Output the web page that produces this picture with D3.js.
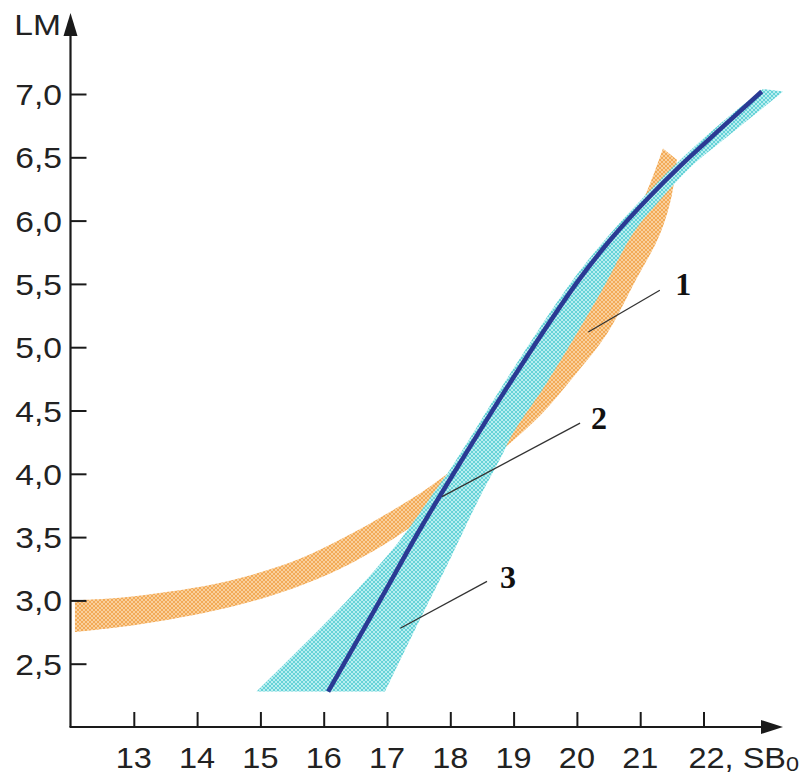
<!DOCTYPE html>
<html>
<head>
<meta charset="utf-8">
<script src="https://cdn.jsdelivr.net/npm/d3@7"></script>
<style>
  body { margin: 0; background: #fff; }
  svg { display: block; }
</style>
</head>
<body>
<svg id="svg" width="809" height="775"></svg>
<script>
// axis ticks
var xTicks = [13, 14, 15, 16, 17, 18, 19, 20, 21, 22];
var yTicks = [2.5, 3.0, 3.5, 4.0, 4.5, 5.0, 5.5, 6.0, 6.5, 7.0];

// band 1 (orange), upper and lower edges as [SB0, LM]
var band1Upper = [[12.07,3.00],[12.78,3.02],[13.57,3.07],[14.28,3.13],[14.99,3.22],[15.63,3.33],
                  [16.30,3.49],[17.05,3.70],[17.68,3.90],[18.31,4.15],[19.10,4.58],[19.89,5.14],
                  [20.68,5.81],[21.08,6.20],[21.36,6.57]];
var band1Lower = [[12.07,2.75],[12.78,2.79],[13.57,2.85],[14.28,2.92],[14.99,3.01],[15.70,3.13],
                  [16.42,3.29],[17.32,3.56],[18.07,3.86],[18.78,4.17],[19.42,4.46],[19.97,4.78],
                  [20.48,5.11],[20.92,5.52],[21.31,5.89],[21.50,6.20],[21.58,6.48]];

// band 3 (cyan)
var band3Left = [[14.94,2.28],[16.37,3.00],[17.21,3.48],[17.71,3.83],[18.03,4.06],[19.02,4.85],
                 [19.92,5.52],[20.48,5.87],[21.08,6.20],[21.55,6.44],[22.18,6.73],[22.94,7.04]];
var band3Right = [[16.97,2.28],[17.52,2.85],[17.99,3.32],[18.44,3.79],[18.78,4.11],[18.99,4.32],
                  [19.50,4.70],[20.00,5.11],[20.44,5.49],[20.89,5.90],[21.31,6.16],[21.79,6.42],
                  [22.37,6.66],[23.26,7.02]];

// curve 2 (dark blue line)
var line2 = [[16.07,2.28],[16.89,3.00],[17.52,3.56],[18.11,4.05],[19.10,4.84],[20.00,5.51],
             [20.55,5.86],[21.15,6.19],[21.63,6.43],[22.26,6.72],[22.92,7.02]];

// callouts: label, text position, leader start, leader end
var calloutNames = ["1", "2", "3"];
var calloutText = [[21.68,5.41],[20.35,4.35],[18.91,3.10]];
var calloutFrom = [[21.31,5.45],[20.05,4.40],[18.58,3.15]];
var calloutTo = [[20.18,5.12],[17.87,3.82],[17.21,2.78]];

var svg = d3.select("#svg");

var xScale = d3.scaleLinear().domain([12, 22]).range([70.5, 703.5]);
var yScale = d3.scaleLinear().domain([2, 7]).range([727, 94]);

var defs = svg.append("defs");

function makeHatch(id, base, ink) {
    var p = defs.append("pattern")
        .attr("id", id)
        .attr("width", 4).attr("height", 4)
        .attr("patternUnits", "userSpaceOnUse");
    p.append("rect").attr("width", 4).attr("height", 4).attr("fill", base);
    p.append("path")
        .attr("d", "M0,0L4,4M4,0L0,4")
        .attr("stroke", ink)
        .attr("stroke-width", 0.9);
}
makeHatch("hatchOrange", "#FAD09C", "#F2A64F");
makeHatch("hatchCyan", "#B8EEF0", "#5CCFD5");

var edge = d3.line()
    .x(function(d){ return xScale(d[0]); })
    .y(function(d){ return yScale(d[1]); })
    .curve(d3.curveCatmullRom.alpha(0.5));

function bandPath(a, b) {
    var back = edge(b.slice().reverse());
    return edge(a) + "L" + back.slice(1) + "Z";
}

//bands
svg.append("path")
    .attr("d", bandPath(band1Upper, band1Lower))
    .attr("fill", "url(#hatchOrange)");

svg.append("path")
    .attr("d", bandPath(band3Left, band3Right))
    .attr("fill", "url(#hatchCyan)");

//line 2
svg.append("path")
    .attr("d", edge(line2))
    .attr("fill", "none")
    .attr("stroke", "#2A3A94")
    .attr("stroke-width", 4.5);

//callouts
var callGrp = svg.append("g");
calloutNames.forEach(function(name, i) {
    callGrp.append("line")
        .attr("x1", xScale(calloutFrom[i][0])).attr("y1", yScale(calloutFrom[i][1]))
        .attr("x2", xScale(calloutTo[i][0])).attr("y2", yScale(calloutTo[i][1]))
        .attr("stroke", "#333")
        .attr("stroke-width", 1.3);
    callGrp.append("text")
        .attr("x", xScale(calloutText[i][0]))
        .attr("y", yScale(calloutText[i][1]))
        .attr("text-anchor", "middle")
        .attr("font-family", "'Liberation Serif', 'Times New Roman', serif")
        .attr("font-weight", "bold")
        .attr("font-size", 32)
        .attr("fill", "#111")
        .text(name);
});

//axes
var axisColor = "#1a1a1a";
var x0 = xScale(12), y0 = yScale(2);

var yAxis = svg.append("g")
    .attr("transform", "translate(" + x0 + ",0)")
    .call(d3.axisRight(yScale).tickValues(yTicks).tickSize(16).tickFormat(""));
yAxis.select(".domain").remove();
yAxis.selectAll("line").attr("stroke", axisColor).attr("stroke-width", 2);

var xAxis = svg.append("g")
    .attr("transform", "translate(0," + y0 + ")")
    .call(d3.axisTop(xScale).tickValues(xTicks).tickSize(15).tickFormat(""));
xAxis.select(".domain").remove();
xAxis.selectAll("line").attr("stroke", axisColor).attr("stroke-width", 2);

svg.append("line")
    .attr("x1", x0).attr("y1", y0).attr("x2", x0).attr("y2", 30)
    .attr("stroke", axisColor).attr("stroke-width", 2.2);
svg.append("path")
    .attr("d", "M" + x0 + ",13L" + (x0 - 7) + ",36L" + (x0 + 7) + ",36Z")
    .attr("fill", axisColor);

svg.append("line")
    .attr("x1", x0 - 1).attr("y1", y0).attr("x2", 765).attr("y2", y0)
    .attr("stroke", axisColor).attr("stroke-width", 2.2);
svg.append("path")
    .attr("d", "M783," + y0 + "L761," + (y0 - 7) + "L761," + (y0 + 7) + "Z")
    .attr("fill", axisColor);

//tick labels (the source lettering is a bit wide, so stretch x)
var labelFont = "'Liberation Sans', Arial, sans-serif";
var stretch = 1.12;
var fmt = function(v){ return v.toFixed(1).replace(".", ","); };

function label(x, y, anchor, size) {
    return svg.append("text")
        .attr("transform", "translate(" + x + "," + y + ") scale(" + stretch + ",1)")
        .attr("text-anchor", anchor)
        .attr("font-family", labelFont)
        .attr("font-size", size || 30)
        .attr("fill", "#222");
}

yTicks.forEach(function(d) {
    label(62, yScale(d) + 11, "end").text(fmt(d));
});

xTicks.slice(0, -1).forEach(function(d) {
    label(xScale(d), 768, "middle", 29).text(d);
});

var last = label(xScale(22) - 15, 768, "start", 29);
last.append("tspan").text("22, SB");
last.append("tspan").attr("font-size", 21).attr("dy", 3).text("0");

label(61, 35, "end").text("LM");
</script>
</body>
</html>
